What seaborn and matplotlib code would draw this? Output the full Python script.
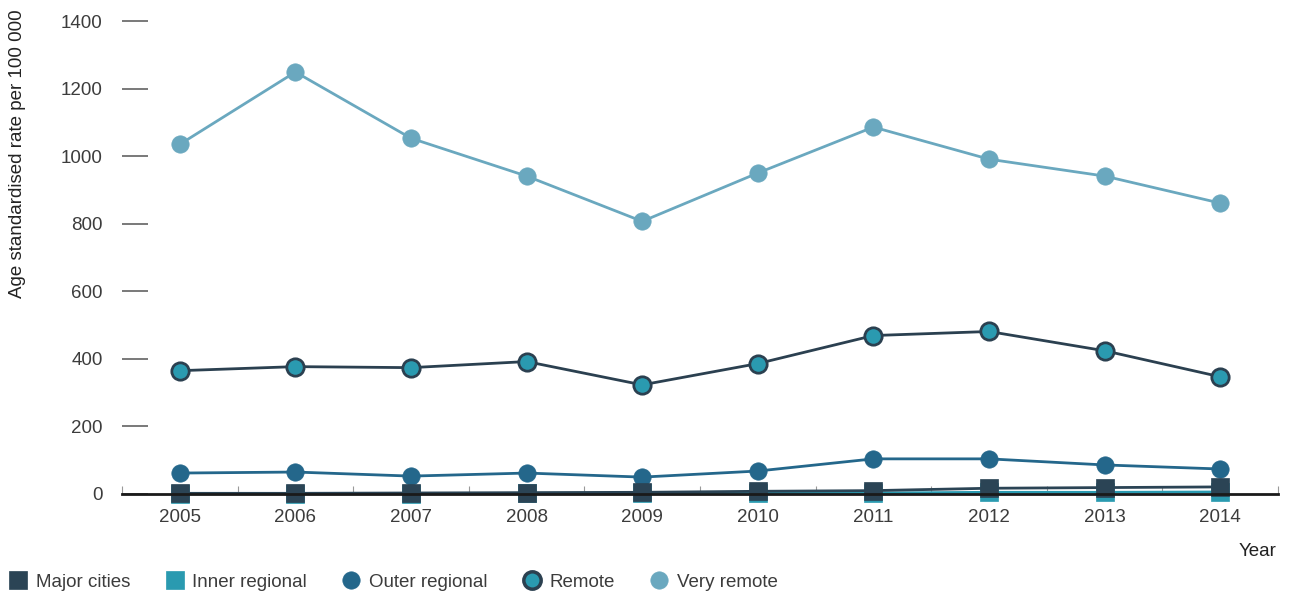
import numpy as np
import pandas as pd
import matplotlib
matplotlib.use("Agg")
import matplotlib.pyplot as plt
import seaborn as sns
from matplotlib.lines import Line2D

# data
years = ["2005", "2006", "2007", "2008", "2009", "2010", "2011", "2012", "2013", "2014"]
major_cities = [2, 2, 3, 4, 5, 8, 10, 17, 19, 21]
inner_regional = [1, 1, 1, 2, 2, 2, 3, 5, 5, 6]
outer_regional = [62, 65, 53, 62, 50, 68, 104, 104, 86, 74]
remote = [365, 377, 374, 392, 323, 386, 469, 481, 424, 347]
very_remote = [1035, 1249, 1053, 941, 807, 950, 1086, 991, 941, 861]

y_ticks = [0, 200, 400, 600, 800, 1000, 1200, 1400]

series_names = ["Major cities", "Inner regional", "Outer regional", "Remote", "Very remote"]
series_values = [major_cities, inner_regional, outer_regional, remote, very_remote]

styles = {
    "Major cities":   dict(color="#2b4455", marker="s", mfc="#2b4455", mec="#2b4455", z=5),
    "Inner regional": dict(color="#2a9ab0", marker="s", mfc="#2a9ab0", mec="#2a9ab0", z=4),
    "Outer regional": dict(color="#24678b", marker="o", mfc="#24678b", mec="#24678b", z=3),
    "Remote":         dict(color="#2b4050", marker="o", mfc="#2a9ab0", mec="#2b4050", z=3),
    "Very remote":    dict(color="#6aa8bf", marker="o", mfc="#6aa8bf", mec="#6aa8bf", z=3),
}

rows = []
for name, vals in zip(series_names, series_values):
    for i, (yr, v) in enumerate(zip(years, vals)):
        rows.append({"series": name, "pos": i, "year": yr, "value": v})
df = pd.DataFrame(rows)

sns.set_theme(style="white")
plt.rcParams["font.family"] = ["Liberation Sans", "DejaVu Sans"]
text_col = "#3c3c3c"
fs = 13.5

fig = plt.figure(figsize=(12.89, 5.97), dpi=100)
ax = fig.add_axes([122 / 1289, 1 - 494 / 597, (1278 - 122) / 1289, (494 - 21) / 597])

# draw in reverse so major cities sit on top
for name in series_names[::-1]:
    st = styles[name]
    sub = df[df["series"] == name]
    sns.lineplot(data=sub, x="pos", y="value", ax=ax, color=st["color"], lw=2.0,
                 marker=st["marker"], markersize=12.5, markerfacecolor=st["mfc"],
                 markeredgecolor=st["mec"], markeredgewidth=2.0 if name == "Remote" else 0.5,
                 zorder=st["z"], clip_on=False, legend=False)

ax.set_xlim(-0.5, len(years) - 0.5)
ax.set_ylim(0, 1400)
ax.set_xticks(range(len(years)))
ax.set_xticklabels(years)
ax.set_xticks(np.arange(-0.5, len(years)), minor=True)
ax.set_yticks(y_ticks)
ax.set_yticklabels([str(t) for t in y_ticks])

ax.tick_params(axis="y", direction="in", length=19, width=1.1, color="#555555",
               pad=14, labelsize=fs, labelcolor=text_col, left=True)
ax.tick_params(axis="x", which="major", length=0, pad=11, labelsize=fs, labelcolor=text_col)
ax.tick_params(axis="x", which="minor", direction="in", length=6, width=0.8, color="#999999", bottom=True)

for s in ["top", "right", "left"]:
    ax.spines[s].set_visible(False)
ax.spines["bottom"].set_color("#1a1a1a")
ax.spines["bottom"].set_linewidth(2)
ax.spines["bottom"].set_zorder(6)

ax.set_xlabel("")
ax.set_ylabel("Age standardised rate per 100 000", fontsize=fs, color="#222222")
ax.yaxis.set_label_coords(-0.083, 0.719)

fig.text(1258 / 1289, 1 - 551 / 597, "Year", ha="center", va="center", fontsize=fs, color="#222222")

handles = []
for name in series_names:
    st = styles[name]
    handles.append(Line2D([], [], linestyle="none", marker=st["marker"], markersize=12.5,
                          markerfacecolor=st["mfc"], markeredgecolor=st["mec"],
                          markeredgewidth=2.5 if name == "Remote" else 0.5))
fig.legend(handles, series_names, loc="center left", bbox_to_anchor=(0.007, 1 - 582 / 597),
           ncol=5, frameon=False, fontsize=fs, handletextpad=0.45, columnspacing=1.85,
           handlelength=1.0, borderaxespad=0, borderpad=0, labelcolor=text_col)

fig.savefig("out.png", dpi=100)
